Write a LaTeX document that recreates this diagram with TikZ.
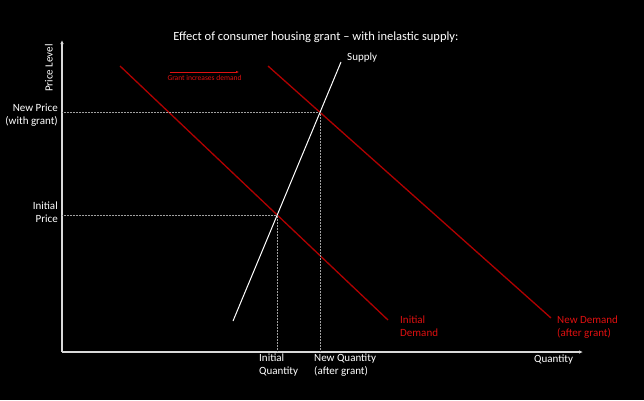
\documentclass[tikz,border=0pt]{standalone}
\usepackage{fontspec}
\setmainfont{Carlito}
\usepackage{tikz}
\usetikzlibrary{positioning, arrows.meta, calc, intersections}
\definecolor{axisgrey}{HTML}{D9D9D9}
\definecolor{demandred}{HTML}{B00000}
\definecolor{labelred}{HTML}{E01010}
\definecolor{guide}{HTML}{A0A0A0}

\begin{document}
\begin{tikzpicture}[x=1pt, y=-1pt,
        every node/.style={font=\fontsize{11}{13}\selectfont, text=white, inner sep=0pt},
        axis/.style={draw=axisgrey, line width=1.2pt, -{Latex[length=4pt, width=3.5pt]}},
        demand/.style={draw=demandred, line width=1.3pt},
        supply/.style={draw=white, line width=1pt},
        guideline/.style={draw=guide, line width=0.5pt, densely dotted},
        lbl/.style={align=left, anchor=north west},
        redlbl/.style={lbl, text=labelred}]

      % background and size
      \fill[black] (0,0) rectangle (644,400);
      \useasboundingbox (0,0) rectangle (644,400);

      % axes
      \coordinate (origin) at (62,352);
      \coordinate (ytop) at (62,40);
      \coordinate (xend) at (583,352);
      \draw[axis] (origin) -- (ytop);
      \draw[axis] (origin) -- (xend);

      % curves
      \draw[demand, name path=dinit] (120,66) -- (388,320) coordinate (dinitend);
      \draw[demand, name path=dnew] (268,66) -- (551,318) coordinate (dnewend);
      \draw[supply, name path=sup] (233,321) -- (341,62) coordinate (suptop);

      \path[name intersections={of=dinit and sup, by=eqinit}];
      \path[name intersections={of=dnew and sup, by=eqnew}];

      % guide lines
      \draw[guideline] (origin |- eqinit) -- (eqinit) -- (eqinit |- origin);
      \draw[guideline] (origin |- eqnew) -- (eqnew) -- (eqnew |- origin);

      % labels
      \node[font=\fontsize{12.5}{15}\selectfont] (title) at (316,37)
        {Effect of consumer housing grant -- with inelastic supply:};
      \node[anchor=south west] (supplbl) at (347,62) {Supply};
      \node[rotate=90, anchor=south east] (ylbl) at (53,44) {Price Level};
      \node[align=right, anchor=east] (newprice) at (58,115.5) {New Price\\(with grant)};
      \node[align=right, anchor=east] (initprice) at (58,212.5) {Initial\\Price};
      \node[lbl] (initqty) at (259,354) {Initial\\Quantity};
      \node[lbl] (newqty) at (314,354) {New Quantity\\(after grant)};
      \node[anchor=north west] (xlbl) at (534,355) {Quantity};
      \node[redlbl] (initdem) at (400,316) {Initial\\Demand};
      \node[redlbl] (newdem) at (557,316) {New Demand\\(after grant)};

      % shift arrow
      \coordinate (shiftA) at (170,72);
      \coordinate (shiftB) at (239,72);
      \draw[draw=labelred, line width=0.9pt, -{Latex[length=3pt, width=2.5pt]}] (shiftA) -- (shiftB);
      \node[text=labelred, font=\fontsize{7.5}{9}\selectfont, anchor=north] (shiftlbl)
        at ($(shiftA)!0.5!(shiftB)+(0,3)$) {Grant increases demand};
    \end{tikzpicture}
\end{document}
